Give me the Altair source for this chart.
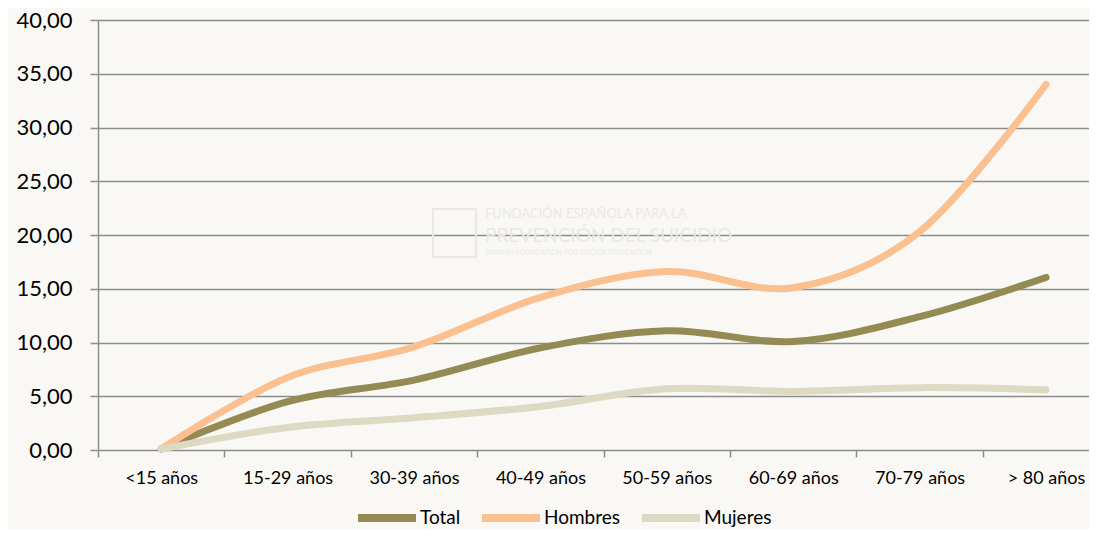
import json
import altair as alt
import pandas as pd

categories = ["<15 años", "15-29 años", "30-39 años", "40-49 años",
              "50-59 años", "60-69 años", "70-79 años", "> 80 años"]
total = [0.1, 4.5, 6.5, 9.5, 11.1, 10.1, 12.4, 16.05]
hombres = [0.1, 6.75, 9.6, 14.2, 16.6, 15.1, 20.3, 34.0]
mujeres = [0.1, 2.1, 3.0, 4.05, 5.7, 5.45, 5.8, 5.6]
series_names = ["Total", "Hombres", "Mujeres"]
series_colors = ["#948A54", "#FAC090", "#DDD9C3"]
y_ticks = [0, 5, 10, 15, 20, 25, 30, 35, 40]
watermark_lines = ["FUNDACIÓN  ESPAÑOLA  PARA  LA", "PREVENCIÓN  DEL  SUICIDIO",
                   "SPANISH FOUNDATION FOR SUICIDE PREVENTION"]

rows = []
for name, vals in zip(series_names, [total, hombres, mujeres]):
    for i, v in enumerate(vals):
        rows.append({"serie": name, "idx": i, "cat": categories[i], "valor": v})
df = pd.DataFrame(rows)

FONT = "Lato"
label_expr = json.dumps(categories) + "[datum.value]"
x_scale = alt.Scale(domain=[-0.5, 7.34], nice=False, zero=False)

# faint watermark (decoration)
wm_color = "#EAE8E3"
wm1 = alt.Chart(pd.DataFrame({"t": [watermark_lines[0]]})).mark_text(
    font=FONT, fontSize=13, color=wm_color, align="left", baseline="middle"
).encode(text="t:N", x=alt.value(387), y=alt.value(194))
wm2 = alt.Chart(pd.DataFrame({"t": [watermark_lines[1]]})).mark_text(
    font=FONT, fontSize=19, color=wm_color, align="left", baseline="middle"
).encode(text="t:N", x=alt.value(387), y=alt.value(216))
wm3 = alt.Chart(pd.DataFrame({"t": [watermark_lines[2]]})).mark_text(
    font=FONT, fontSize=7, color=wm_color, align="left", baseline="middle"
).encode(text="t:N", x=alt.value(387), y=alt.value(233))
wm_box = alt.Chart(pd.DataFrame({"a": [0]})).mark_rect(
    fill=None, stroke=wm_color, strokeWidth=2).encode(
    x=alt.value(335), x2=alt.value(378), y=alt.value(189), y2=alt.value(237))

lines = alt.Chart(df).mark_line(
    interpolate="cardinal", strokeWidth=7, strokeCap="round", strokeJoin="round"
).encode(
    x=alt.X("idx:Q", scale=x_scale,
            axis=alt.Axis(orient="bottom", values=list(range(8)), labelExpr=label_expr,
                          ticks=False, domain=False, grid=False, title=None,
                          labelFontSize=18, labelPadding=19, labelColor="#000000",
                          labelFont=FONT, labelFlush=False, labelOverlap=False)),
    y=alt.Y("valor:Q", scale=alt.Scale(domain=[0, 40], nice=False),
            axis=alt.Axis(values=y_ticks, title=None, grid=True, gridColor="#8c8c8c",
                          gridWidth=1.5, domain=True, domainColor="#8c8c8c",
                          domainWidth=1.5, tickColor="#8c8c8c", tickWidth=1.5,
                          tickSize=8, labelFontSize=22, labelPadding=18,
                          labelColor="#000000", labelFont=FONT,
                          labelExpr="replace(format(datum.value, '.2f'), '.', ',')")),
    color=alt.Color("serie:N", sort=series_names,
                    scale=alt.Scale(domain=series_names, range=series_colors),
                    legend=alt.Legend(orient="none", legendX=256, legendY=465,
                                      direction="horizontal", title=None, padding=0,
                                      symbolType="stroke", symbolStrokeWidth=8,
                                      symbolSize=3364, labelFontSize=19,
                                      labelFont=FONT, labelColor="#000000",
                                      columnPadding=5, labelOffset=0)),
    order=alt.Order("idx:Q"),
)

tick_df = pd.DataFrame({"t": [i - 0.5 for i in range(8)]})
ticks = alt.Chart(tick_df).mark_point(opacity=0).encode(
    x=alt.X("t:Q", scale=x_scale,
            axis=alt.Axis(orient="bottom", values=[i - 0.5 for i in range(8)],
                          labels=False, ticks=True, tickSize=7, tickColor="#8c8c8c",
                          tickWidth=1.5, domain=False, grid=False, title=None)),
    y=alt.value(0),
)

chart = alt.layer(wm_box, wm1, wm2, wm3, ticks, lines).resolve_axis(
    x="independent").properties(
    width=991, height=430,
    autosize=alt.AutoSizeParams(type="none"),
    padding={"left": 90, "top": 12, "right": 0, "bottom": 79},
    background="#F9F8F5",
).configure_view(stroke=None)

chart.save("out.html", embed_options={"renderer": "svg", "actions": False})
